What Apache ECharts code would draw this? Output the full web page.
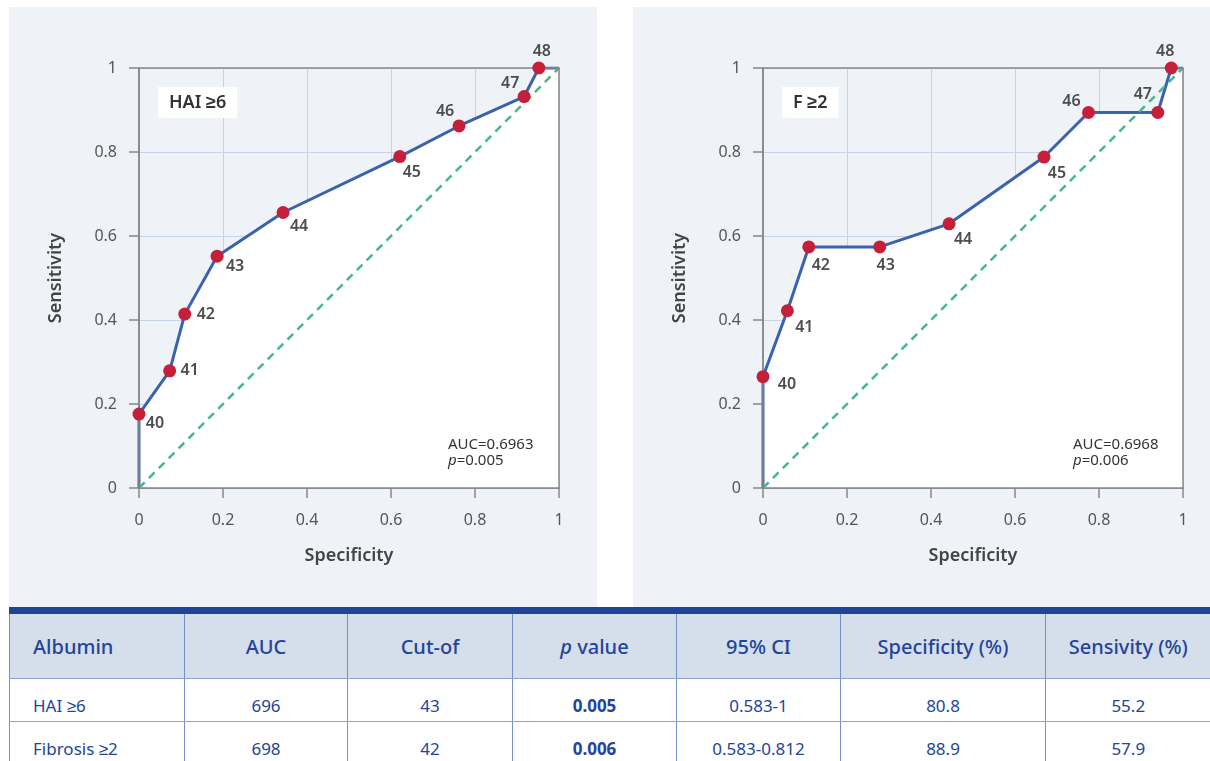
<!DOCTYPE html>
<html>
<head>
<meta charset="utf-8">
<title>ROC Albumin</title>
<script src="https://cdn.jsdelivr.net/npm/echarts@6/dist/echarts.min.js"></script>
<style>
	body { margin: 0; background: #fff; font-family: "Noto Sans", sans-serif; }
	#chart { position: absolute; left: 0; top: 0; width: 1210px; height: 607px; }
	#tbl {
		position: absolute; left: 9px; top: 607px; width: 1201px;
		border-collapse: collapse; table-layout: fixed;
		border-top: 7px solid #1f4496; color: #23449a;
	}
	#tbl th {
		height: 64px; padding: 0; background: #d5deeb; font-size: 20px; font-weight: 500;
		border-left: 1px solid #7690c8; border-bottom: 1px solid #8ea2d2;
	}
	#tbl td {
		padding: 17px 0 5px 0; line-height: 20px; font-size: 17px; text-align: center;
		border-left: 1px solid #7690c8; border-bottom: 1px solid #8ea2d2;
	}
	#tbl th:first-child { text-align: left; padding-left: 23px; }
	#tbl td:first-child { text-align: left; padding-left: 23px; }
	#tbl td.b { font-weight: 700; }
</style>
</head>
<body>
<div id="chart"></div>
<table id="tbl"></table>
<script>
	// ROC points, labelled by albumin cut-off
	const cutoffs = [40, 41, 42, 43, 44, 45, 46, 47, 48]
	const haiSpec = [0, 0.073, 0.109, 0.186, 0.343, 0.621, 0.762, 0.917, 0.952]
	const haiSens = [0.176, 0.279, 0.414, 0.552, 0.656, 0.789, 0.862, 0.932, 1]
	const fibSpec = [0, 0.058, 0.109, 0.278, 0.443, 0.669, 0.775, 0.94, 0.972]
	const fibSens = [0.265, 0.422, 0.574, 0.574, 0.629, 0.788, 0.894, 0.894, 1]
	const axisTicks = [0, 0.2, 0.4, 0.6, 0.8, 1]
	const panelTitles = ['HAI ≥6', 'F ≥2']
	const aucTexts = ['AUC=0.6963', 'AUC=0.6968']
	const pTexts = ['0.005', '0.006']

	const tableHead = ['Albumin', 'AUC', 'Cut-of', 'p value', '95% CI', 'Specificity (%)', 'Sensivity (%)']
	const tableRows = [
		['HAI ≥6', '696', '43', '0.005', '0.583-1', '80.8', '55.2'],
		['Fibrosis ≥2', '698', '42', '0.006', '0.583-0.812', '88.9', '57.9']
	]
	const colWidths = [175, 163, 165, 164, 164, 205, 165]

	// label offsets from each point (layout only)
	const labelOffsets = [
		[[16, 9], [20, 0], [21, 0], [18, 10], [16, 14], [12, 16], [-14, -15], [-14, -13], [3, -17]],
		[[24, 8], [17, 17], [12, 19], [6, 19], [14, 16], [13, 16], [-17, -11], [-15, -18], [-6, -17]]
	]
	const gridLeft = [139, 763]
	const font = '"Noto Sans", sans-serif'

	const makeAxis = (type, i) => ({
		type: 'value',
		gridIndex: i,
		min: axisTicks[0],
		max: axisTicks[axisTicks.length - 1],
		interval: axisTicks[1] - axisTicks[0],
		name: type === 'x' ? 'Specificity' : 'Sensitivity',
		nameLocation: 'middle',
		nameGap: type === 'x' ? 59 : 74,
		nameTextStyle: { fontSize: 18, fontWeight: 600, color: '#444', fontFamily: font },
		axisLine: { show: true, lineStyle: { color: '#888', width: 1.5 } },
		axisTick: { show: true, length: 10, lineStyle: { color: '#888', width: 1.5 } },
		axisLabel: { fontSize: 16, color: '#555', fontFamily: font, margin: type === 'x' ? 24 : 22 },
		splitLine: { show: true, lineStyle: { color: '#c6d1ea', width: 1 } }
	})

	const series = []
	const graphics = []
	;[[haiSpec, haiSens], [fibSpec, fibSens]].forEach(([xs, ys], i) => {
		const pts = xs.map((x, k) => [x, ys[k]])
		series.push({
			type: 'line',
			xAxisIndex: i,
			yAxisIndex: i,
			data: [[0, 0]].concat(pts, [[1, 1]]),
			symbol: 'none',
			lineStyle: { color: '#3a62ad', width: 3 },
			areaStyle: { color: '#fff', opacity: 1 },
			z: 2
		})
		series.push({
			type: 'line',
			xAxisIndex: i,
			yAxisIndex: i,
			data: [[0, 0], [1, 1]],
			symbol: 'none',
			lineStyle: { color: '#3dbc8c', width: 2.5, type: [8, 6] },
			z: 3
		})
		series.push({
			type: 'scatter',
			xAxisIndex: i,
			yAxisIndex: i,
			symbolSize: 13,
			itemStyle: { color: '#c5203a', opacity: 1 },
			data: pts.map((p, k) => ({ value: p, label: { offset: labelOffsets[i][k] } })),
			label: {
				show: true,
				position: 'inside',
				fontSize: 16,
				fontWeight: 600,
				color: '#4d4d4d',
				fontFamily: font,
				formatter: (p) => String(cutoffs[p.dataIndex])
			},
			z: 6
		})
		graphics.push({
			type: 'text',
			left: gridLeft[i] + 19,
			top: 87,
			z: 10,
			style: {
				text: panelTitles[i],
				fontSize: 18,
				fontWeight: 600,
				fontFamily: font,
				fill: '#333',
				backgroundColor: '#fff',
				padding: [7, 11, 6, 11],
				lineHeight: 18
			}
		})
		graphics.push({
			type: 'text',
			left: gridLeft[i] + (i === 0 ? 309 : 310),
			top: 437,
			z: 10,
			style: {
				text: aucTexts[i] + '\n{i|p}=' + pTexts[i],
				fontSize: 15,
				lineHeight: 16,
				fontFamily: font,
				fill: '#333',
				rich: { i: { fontStyle: 'italic', fontSize: 15, fontFamily: font, fill: '#333' } }
			}
		})
	})

	const option = {
		animation: false,
		graphic: [
			{ type: 'rect', shape: { x: 9, y: 7, width: 588, height: 600 }, style: { fill: '#eff3f8' }, z: -10 },
			{ type: 'rect', shape: { x: 633, y: 7, width: 577, height: 600 }, style: { fill: '#eff3f8' }, z: -10 }
		].concat(graphics),
		grid: gridLeft.map((l) => ({
			left: l,
			top: 68,
			width: 420,
			height: 420,
			show: true,
			backgroundColor: 'transparent',
			borderColor: '#888',
			borderWidth: 1.5,
			z: 4
		})),
		xAxis: [makeAxis('x', 0), makeAxis('x', 1)],
		yAxis: [makeAxis('y', 0), makeAxis('y', 1)],
		series: series
	}

	const Echarts = echarts.init(document.getElementById('chart'))
	Echarts.setOption(option)

	// 表格
	const tbl = document.getElementById('tbl')
	let html = '<colgroup>' + colWidths.map((w) => '<col style="width:' + w + 'px">').join('') + '</colgroup>'
	html += '<tr>' + tableHead.map((h) => '<th>' + h.replace(/^p /, '<i>p</i> ') + '</th>').join('') + '</tr>'
	tableRows.forEach((r) => {
		html += '<tr>' + r.map((c, k) => '<td' + (k === 3 ? ' class="b"' : '') + '>' + c + '</td>').join('') + '</tr>'
	})
	tbl.innerHTML = html
</script>
</body>
</html>
